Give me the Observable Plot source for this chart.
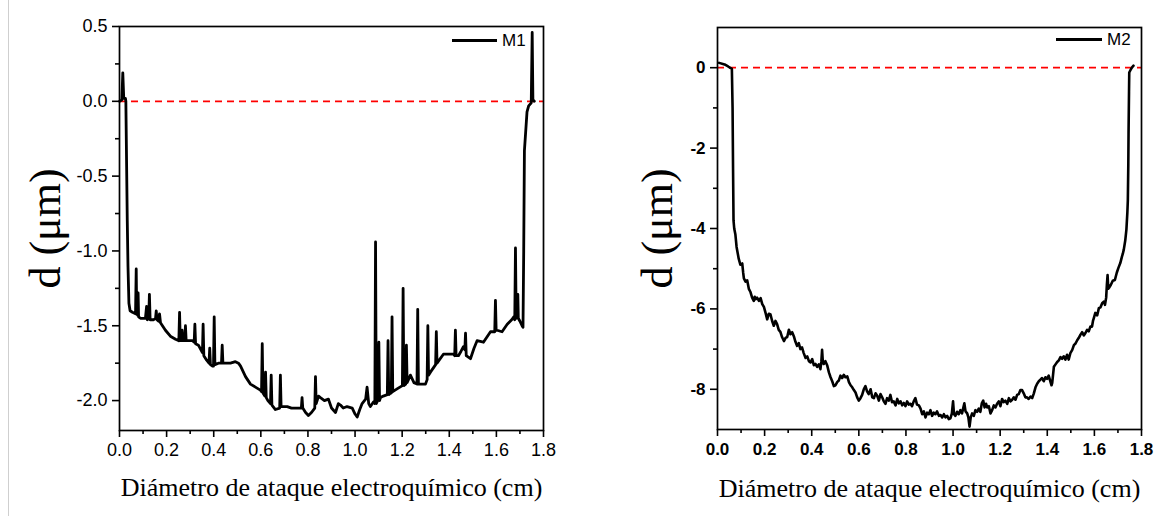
<!DOCTYPE html>
<html><head><meta charset="utf-8">
<script src="https://cdn.jsdelivr.net/npm/d3@7"></script>
<script src="https://cdn.jsdelivr.net/npm/@observablehq/plot@0.6"></script>
<style>
body{margin:0;background:#fff;}
#wrap{position:relative;width:1166px;height:516px;overflow:hidden;background:#fff;}
.panel{position:absolute;top:0;}
.sw{position:absolute;height:2.5px;background:#000;}
.lt{position:absolute;font-family:"Liberation Sans",Arial,sans-serif;font-size:17px;line-height:17px;transform:translateY(-50%);color:#000;}
.edge{position:absolute;left:8px;top:0;width:1px;height:516px;background:#cfcfcf;}
</style></head><body><div id="wrap"><div class="edge"></div></div>
<script>
// ---- data ----
const xTicks = [0, 0.2, 0.4, 0.6, 0.8, 1.0, 1.2, 1.4, 1.6, 1.8];
const xMinorTicks = [0.1, 0.3, 0.5, 0.7, 0.9, 1.1, 1.3, 1.5, 1.7];
const m1YTicks = [0.5, 0.0, -0.5, -1.0, -1.5, -2.0];
const m1YMinorTicks = [0.25, -0.25, -0.75, -1.25, -1.75];
const m2YTicks = [0, -2, -4, -6, -8];
const m2YMinorTicks = [-1, -3, -5, -7];
const seriesNames = ["M1", "M2"];
const xTitle = "Diámetro de ataque electroquímico (cm)";
const yTitle = "d (μm)";

const m1Points = [
[0.000,0.00],[0.010,0.01],[0.014,0.19],[0.018,0.02],[0.025,0.02],[0.027,0.00],[0.033,-0.80],[0.036,-1.10],[0.040,-1.35],[0.045,-1.40],
[0.055,-1.41],[0.068,-1.42],[0.071,-1.12],[0.073,-1.42],[0.077,-1.43],[0.079,-1.28],[0.081,-1.44],[0.089,-1.45],[0.100,-1.45],[0.110,-1.45],
[0.115,-1.37],[0.118,-1.46],[0.124,-1.45],[0.127,-1.29],[0.130,-1.46],[0.145,-1.46],[0.153,-1.45],[0.156,-1.40],[0.159,-1.46],[0.166,-1.47],
[0.170,-1.42],[0.174,-1.48],[0.195,-1.53],[0.216,-1.57],[0.238,-1.59],[0.252,-1.60],[0.255,-1.41],[0.258,-1.60],[0.263,-1.60],[0.266,-1.53],
[0.269,-1.60],[0.277,-1.60],[0.280,-1.50],[0.283,-1.60],[0.300,-1.60],[0.310,-1.60],[0.317,-1.61],[0.320,-1.49],[0.323,-1.62],[0.335,-1.63],
[0.352,-1.68],[0.355,-1.49],[0.358,-1.70],[0.370,-1.73],[0.380,-1.75],[0.383,-1.65],[0.386,-1.76],[0.395,-1.77],[0.399,-1.77],[0.402,-1.44],
[0.405,-1.76],[0.420,-1.75],[0.433,-1.75],[0.436,-1.63],[0.439,-1.75],[0.460,-1.75],[0.471,-1.75],[0.492,-1.74],[0.505,-1.75],[0.514,-1.77],
[0.535,-1.84],[0.556,-1.89],[0.577,-1.91],[0.598,-1.93],[0.603,-1.94],[0.606,-1.62],[0.609,-1.95],[0.617,-1.97],[0.620,-1.81],[0.623,-1.98],
[0.630,-2.00],[0.641,-2.02],[0.644,-1.83],[0.647,-2.03],[0.662,-2.06],[0.680,-2.05],[0.683,-1.83],[0.686,-2.04],[0.700,-2.04],[0.712,-2.04],
[0.730,-2.05],[0.747,-2.05],[0.772,-2.05],[0.775,-1.98],[0.778,-2.05],[0.790,-2.08],[0.802,-2.10],[0.815,-2.08],[0.829,-2.05],[0.832,-1.84],
[0.835,-2.02],[0.845,-1.97],[0.853,-1.98],[0.870,-2.00],[0.887,-1.99],[0.900,-2.05],[0.917,-2.08],[0.929,-2.02],[0.938,-2.03],[0.950,-2.05],
[0.966,-2.04],[0.988,-2.05],[1.000,-2.09],[1.009,-2.11],[1.020,-2.06],[1.030,-2.02],[1.045,-1.99],[1.051,-1.91],[1.058,-2.02],[1.065,-2.04],
[1.078,-2.01],[1.084,-2.02],[1.087,-0.94],[1.090,-2.02],[1.096,-2.00],[1.101,-1.61],[1.104,-2.00],[1.108,-1.98],[1.120,-1.97],[1.137,-1.96],
[1.140,-1.60],[1.143,-1.96],[1.150,-1.95],[1.154,-1.95],[1.157,-1.44],[1.160,-1.94],[1.180,-1.92],[1.201,-1.90],[1.204,-1.25],[1.207,-1.90],
[1.215,-1.89],[1.218,-1.63],[1.221,-1.88],[1.235,-1.83],[1.250,-1.88],[1.263,-1.89],[1.266,-1.39],[1.269,-1.89],[1.285,-1.89],[1.299,-1.89],
[1.306,-1.86],[1.309,-1.50],[1.312,-1.83],[1.320,-1.81],[1.342,-1.76],[1.345,-1.54],[1.348,-1.75],[1.375,-1.69],[1.400,-1.69],[1.418,-1.69],
[1.423,-1.70],[1.426,-1.53],[1.429,-1.70],[1.439,-1.70],[1.450,-1.67],[1.460,-1.64],[1.466,-1.66],[1.469,-1.55],[1.472,-1.70],[1.490,-1.72],
[1.505,-1.65],[1.518,-1.60],[1.545,-1.61],[1.575,-1.54],[1.593,-1.54],[1.596,-1.33],[1.599,-1.53],[1.603,-1.53],[1.624,-1.54],[1.646,-1.49],
[1.665,-1.46],[1.674,-1.44],[1.678,-1.46],[1.681,-0.98],[1.684,-1.45],[1.688,-1.44],[1.691,-1.29],[1.693,-1.45],[1.700,-1.47],[1.709,-1.50],
[1.713,-1.51],[1.716,-1.00],[1.719,-0.33],[1.730,-0.07],[1.737,-0.03],[1.748,-0.01],[1.752,0.46],[1.755,0.01],[1.761,0.00]
];

const m2Points = [
[0.007,0.12],[0.030,0.08],[0.045,0.03],[0.061,-0.03],[0.064,-1.0],[0.066,-2.5],[0.068,-3.80],[0.071,-4.00],[0.076,-4.15],[0.081,-4.46],
[0.086,-4.62],[0.090,-4.75],[0.097,-4.90],[0.105,-4.87],[0.109,-5.10],[0.112,-5.24],[0.119,-5.32],[0.126,-5.29],[0.133,-5.50],[0.140,-5.58],
[0.147,-5.72],[0.154,-5.80],[0.158,-5.70],[0.161,-5.76],[0.168,-5.72],[0.176,-5.80],[0.183,-5.73],[0.190,-5.88],[0.197,-5.95],[0.204,-6.10],
[0.211,-6.26],[0.218,-6.12],[0.225,-6.14],[0.232,-6.30],[0.239,-6.42],[0.246,-6.30],[0.253,-6.38],[0.260,-6.52],[0.267,-6.57],[0.274,-6.70],
[0.282,-6.80],[0.289,-6.72],[0.296,-6.70],[0.303,-6.52],[0.310,-6.63],[0.317,-6.58],[0.324,-6.68],[0.331,-6.82],[0.338,-6.92],[0.345,-6.85],
[0.352,-7.00],[0.359,-6.96],[0.366,-7.10],[0.374,-7.22],[0.381,-7.18],[0.388,-7.30],[0.395,-7.33],[0.402,-7.25],[0.409,-7.40],[0.416,-7.37],
[0.423,-7.44],[0.430,-7.38],[0.437,-7.50],[0.441,-7.30],[0.444,-7.02],[0.447,-7.30],[0.451,-7.37],[0.458,-7.30],[0.466,-7.41],[0.473,-7.58],
[0.480,-7.70],[0.487,-7.80],[0.494,-7.92],[0.501,-7.90],[0.508,-7.82],[0.515,-7.78],[0.522,-7.66],[0.529,-7.72],[0.536,-7.64],[0.543,-7.70],
[0.551,-7.68],[0.558,-7.82],[0.565,-7.90],[0.572,-7.95],[0.579,-8.02],[0.586,-8.08],[0.593,-8.20],[0.600,-8.28],[0.607,-8.22],[0.614,-8.14],
[0.621,-8.00],[0.628,-7.92],[0.635,-8.05],[0.642,-8.12],[0.650,-8.00],[0.657,-8.20],[0.664,-8.22],[0.671,-8.10],[0.678,-8.16],[0.685,-8.28],
[0.692,-8.12],[0.699,-8.20],[0.706,-8.30],[0.713,-8.36],[0.720,-8.22],[0.727,-8.28],[0.734,-8.14],[0.741,-8.32],[0.748,-8.30],[0.756,-8.40],
[0.763,-8.24],[0.770,-8.35],[0.777,-8.30],[0.784,-8.40],[0.791,-8.34],[0.798,-8.42],[0.805,-8.30],[0.812,-8.38],[0.819,-8.36],[0.826,-8.42],
[0.833,-8.30],[0.840,-8.22],[0.847,-8.38],[0.855,-8.40],[0.862,-8.48],[0.869,-8.62],[0.876,-8.55],[0.883,-8.70],[0.890,-8.58],[0.897,-8.62],
[0.904,-8.52],[0.911,-8.66],[0.918,-8.58],[0.925,-8.62],[0.932,-8.55],[0.940,-8.66],[0.947,-8.64],[0.954,-8.70],[0.961,-8.62],[0.968,-8.70],
[0.975,-8.66],[0.982,-8.74],[0.989,-8.72],[0.995,-8.60],[1.000,-8.30],[1.004,-8.62],[1.010,-8.66],[1.017,-8.56],[1.024,-8.62],[1.031,-8.52],
[1.038,-8.60],[1.044,-8.45],[1.048,-8.35],[1.053,-8.55],[1.060,-8.60],[1.065,-8.70],[1.070,-8.93],[1.075,-8.70],[1.081,-8.60],[1.088,-8.66],
[1.095,-8.52],[1.102,-8.56],[1.109,-8.48],[1.116,-8.56],[1.122,-8.35],[1.128,-8.28],[1.134,-8.45],[1.140,-8.36],[1.145,-8.45],[1.152,-8.42],
[1.159,-8.60],[1.166,-8.52],[1.173,-8.40],[1.180,-8.45],[1.187,-8.36],[1.194,-8.30],[1.201,-8.42],[1.208,-8.24],[1.215,-8.32],[1.222,-8.28],
[1.230,-8.36],[1.237,-8.22],[1.244,-8.30],[1.251,-8.26],[1.258,-8.20],[1.265,-8.26],[1.272,-8.14],[1.279,-8.12],[1.286,-8.02],[1.293,-8.02],
[1.300,-8.10],[1.307,-8.20],[1.314,-8.20],[1.321,-8.24],[1.329,-8.18],[1.336,-8.22],[1.343,-8.10],[1.350,-7.95],[1.357,-7.86],[1.364,-7.80],
[1.371,-7.76],[1.378,-7.72],[1.385,-7.80],[1.392,-7.70],[1.399,-7.74],[1.406,-7.66],[1.413,-7.80],[1.418,-7.90],[1.421,-7.84],[1.428,-7.44],
[1.435,-7.38],[1.442,-7.32],[1.449,-7.28],[1.456,-7.20],[1.463,-7.24],[1.470,-7.18],[1.477,-7.26],[1.484,-7.14],[1.491,-7.26],[1.498,-7.10],
[1.506,-7.02],[1.513,-6.90],[1.520,-6.86],[1.527,-6.78],[1.534,-6.72],[1.541,-6.64],[1.548,-6.58],[1.555,-6.66],[1.562,-6.60],[1.569,-6.52],
[1.576,-6.56],[1.583,-6.44],[1.590,-6.44],[1.594,-6.30],[1.597,-6.24],[1.604,-6.10],[1.612,-6.16],[1.619,-5.98],[1.626,-5.96],[1.633,-5.86],
[1.640,-5.82],[1.645,-5.90],[1.650,-5.72],[1.653,-5.40],[1.656,-5.16],[1.659,-5.50],[1.664,-5.46],[1.670,-5.40],[1.678,-5.30],[1.687,-5.28],
[1.695,-5.10],[1.702,-4.98],[1.710,-4.86],[1.717,-4.70],[1.721,-4.62],[1.725,-4.52],[1.731,-4.30],[1.736,-4.02],[1.740,-3.60],[1.742,-3.30],
[1.744,-2.40],[1.745,-1.64],[1.747,-0.60],[1.748,-0.12],[1.754,-0.05],[1.760,0.01],[1.766,0.05]
];

// ---- drawing ----
const sans = "Liberation Sans, Arial, sans-serif";
const serif = "Liberation Serif, Times New Roman, serif";

function panel(o) {
  const font = {fontSize: o.tickFont, fontFamily: sans, fontWeight: o.bold ? "bold" : "normal"};
  const chart = Plot.plot({
    width: 583, height: 516,
    marginLeft: o.marginLeft, marginRight: o.marginRight, marginTop: o.marginTop, marginBottom: o.marginBottom,
    style: {background: "transparent", fontFamily: sans, overflow: "visible", color: "#000"},
    x: {domain: [0, 1.8]},
    y: {domain: o.yDomain},
    marks: [
      Plot.ruleY([0], {stroke: "#ff0000", strokeWidth: 1.8, strokeDasharray: "7,5"}),
      Plot.line(o.data, {x: d => d[0], y: d => d[1], stroke: "#000", strokeWidth: o.lineWidth, strokeLinejoin: "round"}),
      Plot.frame({stroke: "#000", strokeWidth: 1.7}),
      Plot.axisX({ticks: xMinorTicks, tickSize: 4, tickFormat: () => "", label: null, strokeWidth: 1.6}),
      Plot.axisX({ticks: xTicks, tickSize: 7, tickPadding: 6, tickFormat: d => d.toFixed(1), label: null, strokeWidth: 1.6, ...font}),
      Plot.axisY({ticks: o.yMinor, tickSize: 4, tickFormat: () => "", label: null, strokeWidth: 1.6}),
      Plot.axisY({ticks: o.yTicks, tickSize: 7, tickPadding: o.yPad, tickFormat: o.fmt, label: null, strokeWidth: 1.6, ...font}),
      Plot.text([yTitle], {text: d => d, frameAnchor: "left", textAnchor: "middle", dx: o.yTitleDx, rotate: -90, fontSize: 44, fontFamily: serif}),
      Plot.text([xTitle], {text: d => d, frameAnchor: "bottom", textAnchor: "middle", dy: o.xTitleDy, fontSize: 26, fontFamily: serif})
    ]
  });
  const div = document.createElement("div");
  div.className = "panel";
  div.style.left = o.left + "px";
  div.appendChild(chart);
  const wrap = document.getElementById("wrap");
  wrap.appendChild(div);
  // legend
  const sw = document.createElement("div");
  sw.className = "sw";
  sw.style.left = o.legX + "px"; sw.style.top = (o.legY - 1) + "px"; sw.style.width = o.legW + "px";
  wrap.appendChild(sw);
  const lt = document.createElement("div");
  lt.className = "lt";
  lt.textContent = o.name;
  lt.style.left = (o.legX + o.legW + 5) + "px"; lt.style.top = o.legY + "px";
  wrap.appendChild(lt);
}

panel({
  data: m1Points, name: seriesNames[0], left: 0,
  marginLeft: 119, marginRight: 40, marginTop: 26, marginBottom: 86,
  yDomain: [-2.2, 0.5], yTicks: m1YTicks, yMinor: m1YMinorTicks, fmt: d => d.toFixed(1),
  bold: false, tickFont: 18, lineWidth: 2.8, yPad: 5, yTitleDx: -74, xTitleDy: 65,
  legX: 452, legY: 40, legW: 45
});
panel({
  data: m2Points, name: seriesNames[1], left: 583,
  marginLeft: 134, marginRight: 25, marginTop: 27, marginBottom: 87,
  yDomain: [-9, 1], yTicks: m2YTicks, yMinor: m2YMinorTicks, fmt: d => String(d),
  bold: true, tickFont: 17, lineWidth: 2.6, yPad: 5, yTitleDx: -60, xTitleDy: 67,
  legX: 1056, legY: 39, legW: 46
});
</script></body></html>
